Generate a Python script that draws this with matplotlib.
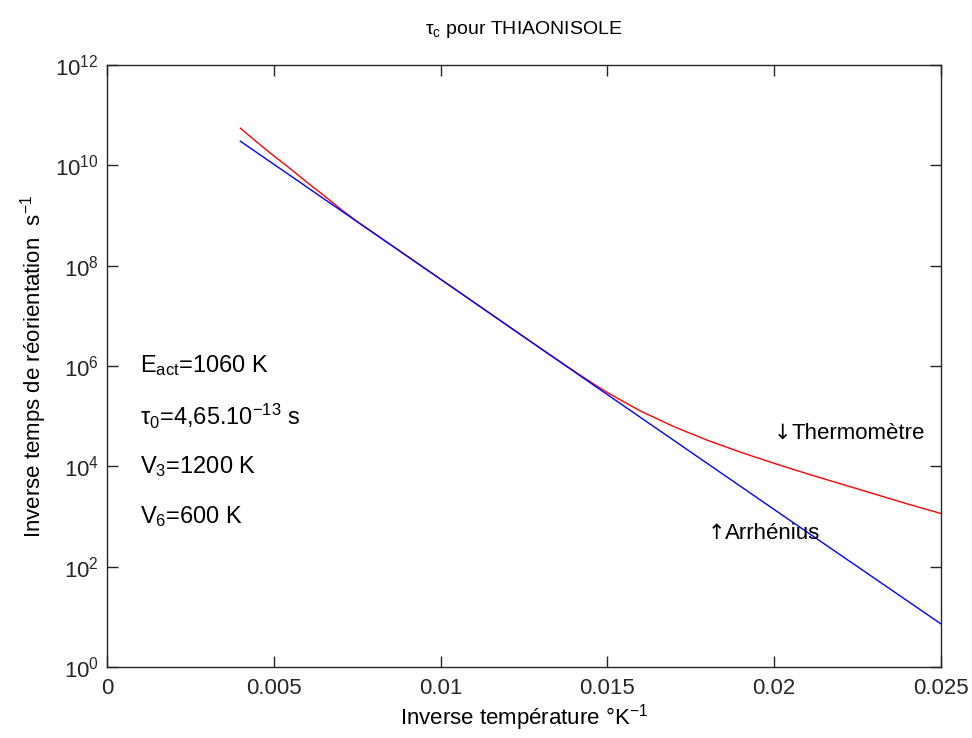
import numpy as np
import matplotlib
matplotlib.use("Agg")
import matplotlib.pyplot as plt
from matplotlib.ticker import FixedLocator, NullLocator

plt.rcParams['font.family'] = ['Liberation Sans', 'DejaVu Sans']
plt.rcParams['mathtext.fontset'] = 'custom'
plt.rcParams['mathtext.rm'] = 'Liberation Sans'
plt.rcParams['mathtext.it'] = 'Liberation Sans:italic'
plt.rcParams['mathtext.default'] = 'regular'

# inverse temperature (1/K)
inv_t_thermo = [0.004, 0.0045, 0.005, 0.0055, 0.006, 0.0065, 0.007, 0.0075,
                0.008, 0.009, 0.010, 0.011, 0.012, 0.013, 0.014, 0.0145,
                0.015, 0.016, 0.017, 0.018, 0.019, 0.020, 0.021, 0.022,
                0.023, 0.024, 0.025]
# log10 of the rate (red curve)
log_rate_thermo = [10.74, 10.46, 10.19, 9.93, 9.66, 9.40, 9.13, 8.88,
                   8.65, 8.19, 7.73, 7.27, 6.81, 6.35, 5.90, 5.68,
                   5.47, 5.10, 4.79, 4.52, 4.28, 4.06, 3.85, 3.65,
                   3.45, 3.25, 3.06]

# blue curve (Arrhenius), straight on the log scale
inv_t_arrh = [0.004, 0.010, 0.015, 0.020, 0.025]
log_rate_arrh = [10.48, 7.73, 5.43, 3.14, 0.86]

rate_thermo = 10 ** np.array(log_rate_thermo)
rate_arrh = 10 ** np.array(log_rate_arrh)

fig = plt.figure(figsize=(9.72, 7.38), dpi=100)
ax = fig.add_axes([0.110, 0.0962, 0.858, 0.8158])

ax.semilogy(inv_t_thermo, rate_thermo, color='#ff0000', lw=1)
ax.semilogy(inv_t_arrh, rate_arrh, color='#0000ff', lw=1)

ax.set_xlim(0, 0.025)
ax.set_ylim(1, 1e12)
ax.set_xticks([0, 0.005, 0.01, 0.015, 0.02, 0.025])
ax.set_xticklabels(['0', '0.005', '0.01', '0.015', '0.02', '0.025'])
ax.yaxis.set_major_locator(FixedLocator([10.0 ** k for k in range(0, 13, 2)]))
ax.yaxis.set_minor_locator(NullLocator())
ax.set_yticklabels(['$10^{%d}$' % k for k in range(0, 13, 2)])
ax.tick_params(direction='in', length=8, width=1, top=True, right=True,
               labelsize=16, colors='#262626')
ax.tick_params(axis='x', pad=8)
ax.tick_params(axis='y', pad=6)
for s in ax.spines.values():
    s.set_linewidth(1)
    s.set_color('#262626')

ax.set_title(r'$\tau_c$ pour THIAONISOLE', fontsize=14, pad=22)
ax.set_xlabel(r'Inverse température °K$^{-1}$', fontsize=16, labelpad=2)
ax.set_ylabel(r'Inverse temps de réorientation  s$^{-1}$', fontsize=16, labelpad=4)

ax.text(0.001, 1e6, r'E$_{act}$=1060 K', fontsize=17, va='center')
ax.text(0.001, 1e5, r'$\tau_0$=4,65.10$^{-13}$ s', fontsize=17, va='center')
ax.text(0.001, 1e4, r'V$_3$=1200 K', fontsize=17, va='center')
ax.text(0.001, 1e3, r'V$_6$=600 K', fontsize=17, va='center')

# curve labels: arrow glyph from DejaVu, word in Liberation
ax.text(0.0200, 10 ** 4.66, '↓', fontsize=15, va='center', family=['DejaVu Sans'])
ax.annotate('Thermomètre', xy=(0.0200, 10 ** 4.66), xytext=(12.8, 0),
            textcoords='offset points', fontsize=16, va='center')
ax.text(0.0180, 10 ** 2.67, '↑', fontsize=15, va='center', family=['DejaVu Sans'])
ax.annotate('Arrhénius', xy=(0.0180, 10 ** 2.67), xytext=(12.8, 0),
            textcoords='offset points', fontsize=16, va='center')

fig.savefig('out.png', dpi=100)
